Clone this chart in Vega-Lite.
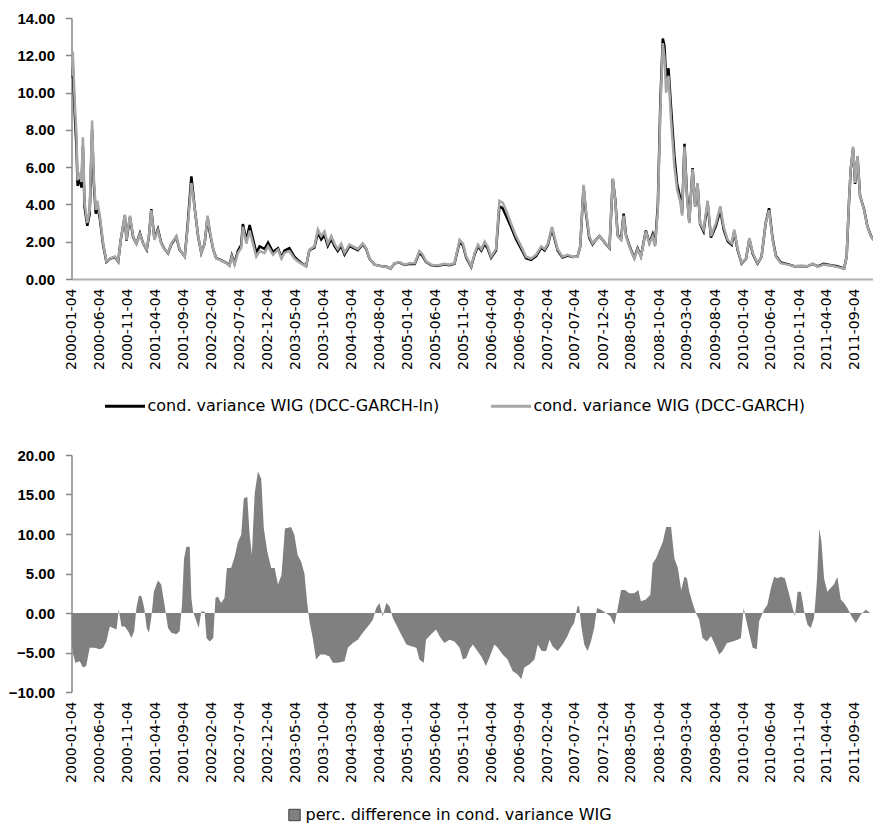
{
  "$schema": "https://vega.github.io/schema/vega-lite/v6.json",
  "background": "white",
  "padding": {"top": 11, "left": 7.5, "right": 0, "bottom": 0},
  "spacing": 33,
  "config": {
    "view": {"stroke": null},
    "axis": {"grid": false, "labelFont": "Liberation Sans", "labelFontWeight": "bold", "labelFontSize": 15, "labelColor": "#000000", "domainColor": "#868686", "tickColor": "#868686", "domainWidth": 1.5, "tickWidth": 1.5, "labelOverlap": false},
    "axisX": {"labelFont": "DejaVu Sans", "labelFontWeight": "normal", "labelFontSize": 14, "labelAngle": -90, "ticks": false, "labelPadding": 9, "labelOverlap": false, "domainColor": "#b0b0b0", "domainWidth": 2, "labelExpr": "utcFormat(datum.value, '%Y-%m-%d')"},
    "axisY": {"tickSize": 6, "labelPadding": 11, "labelOverlap": false}
  },
  "datasets": {
    "top": [
      {"d":"2000-01-04","g":10.9,"b":10.8},{"d":"2000-01-11","g":12.2,"b":11.4},{"d":"2000-01-22","g":9.4,"b":8.8},{"d":"2000-01-31","g":7.8,"b":7.1},
      {"d":"2000-02-06","g":5.3,"b":5.0},{"d":"2000-02-18","g":5.7,"b":5.4},{"d":"2000-02-27","g":5.2,"b":4.9},{"d":"2000-03-06","g":7.6,"b":7.1},
      {"d":"2000-03-15","g":4.1,"b":3.85},{"d":"2000-03-30","g":3.0,"b":2.85},{"d":"2000-04-12","g":3.7,"b":3.5},{"d":"2000-04-25","g":8.5,"b":8.0},
      {"d":"2000-05-04","g":5.5,"b":5.2},{"d":"2000-05-15","g":3.7,"b":3.5},{"d":"2000-05-23","g":4.2,"b":4.0},{"d":"2000-06-06","g":3.4,"b":3.25},
      {"d":"2000-06-24","g":1.9,"b":1.82},{"d":"2000-07-12","g":0.95,"b":0.92},{"d":"2000-07-30","g":1.1,"b":1.08},{"d":"2000-08-26","g":1.2,"b":1.18},
      {"d":"2000-09-14","g":0.95,"b":0.93},{"d":"2000-09-28","g":2.1,"b":2.1},{"d":"2000-10-20","g":3.45,"b":3.4},{"d":"2000-10-29","g":2.1,"b":2.06},
      {"d":"2000-11-17","g":3.4,"b":3.32},{"d":"2000-12-04","g":2.3,"b":2.25},{"d":"2000-12-22","g":1.9,"b":1.9},{"d":"2001-01-10","g":2.4,"b":2.45},
      {"d":"2001-01-28","g":1.9,"b":1.9},{"d":"2001-02-16","g":1.6,"b":1.57},{"d":"2001-02-28","g":2.3,"b":2.27},{"d":"2001-03-13","g":3.7,"b":3.75},
      {"d":"2001-03-30","g":2.1,"b":2.15},{"d":"2001-04-18","g":2.6,"b":2.68},{"d":"2001-05-06","g":1.9,"b":1.94},{"d":"2001-05-24","g":1.6,"b":1.6},
      {"d":"2001-06-12","g":1.4,"b":1.38},{"d":"2001-06-30","g":1.9,"b":1.86},{"d":"2001-07-27","g":2.3,"b":2.25},{"d":"2001-08-14","g":1.6,"b":1.57},
      {"d":"2001-09-11","g":1.2,"b":1.21},{"d":"2001-09-25","g":2.55,"b":2.7},{"d":"2001-10-17","g":5.15,"b":5.5},{"d":"2001-11-05","g":3.7,"b":3.72},
      {"d":"2001-11-23","g":2.3,"b":2.27},{"d":"2001-12-10","g":1.4,"b":1.4},{"d":"2001-12-28","g":1.9,"b":1.9},{"d":"2002-01-13","g":3.4,"b":3.3},
      {"d":"2002-01-25","g":2.6,"b":2.5},{"d":"2002-02-13","g":1.6,"b":1.58},{"d":"2002-03-01","g":1.1,"b":1.12},{"d":"2002-03-28","g":1.0,"b":1.01},
      {"d":"2002-04-24","g":0.85,"b":0.87},{"d":"2002-05-12","g":0.7,"b":0.74},{"d":"2002-05-25","g":1.2,"b":1.26},{"d":"2002-06-09","g":0.77,"b":0.83},
      {"d":"2002-06-27","g":1.4,"b":1.52},{"d":"2002-07-15","g":1.66,"b":1.82},{"d":"2002-07-24","g":2.8,"b":2.95},{"d":"2002-08-12","g":1.9,"b":2.08},
      {"d":"2002-08-30","g":2.6,"b":2.9},{"d":"2002-09-17","g":1.9,"b":2.15},{"d":"2002-10-05","g":1.2,"b":1.4},{"d":"2002-10-23","g":1.5,"b":1.75},
      {"d":"2002-11-19","g":1.4,"b":1.62},{"d":"2002-12-08","g":1.75,"b":1.95},{"d":"2003-01-04","g":1.3,"b":1.45},{"d":"2003-01-31","g":1.57,"b":1.65},
      {"d":"2003-02-19","g":1.1,"b":1.15},{"d":"2003-03-07","g":1.4,"b":1.52},{"d":"2003-04-03","g":1.5,"b":1.65},{"d":"2003-04-30","g":1.1,"b":1.2},
      {"d":"2003-05-18","g":0.95,"b":1.02},{"d":"2003-06-15","g":0.77,"b":0.8},{"d":"2003-07-03","g":0.7,"b":0.7},{"d":"2003-07-21","g":1.57,"b":1.55},
      {"d":"2003-08-17","g":1.75,"b":1.68},{"d":"2003-09-05","g":2.65,"b":2.5},{"d":"2003-09-23","g":2.3,"b":2.12},{"d":"2003-10-11","g":2.55,"b":2.35},
      {"d":"2003-10-29","g":1.9,"b":1.78},{"d":"2003-11-17","g":2.3,"b":2.15},{"d":"2003-12-04","g":1.9,"b":1.78},{"d":"2003-12-22","g":1.6,"b":1.5},
      {"d":"2004-01-10","g":1.9,"b":1.78},{"d":"2004-01-28","g":1.4,"b":1.31},{"d":"2004-02-24","g":1.85,"b":1.76},{"d":"2004-03-13","g":1.75,"b":1.68},
      {"d":"2004-04-09","g":1.6,"b":1.55},{"d":"2004-05-06","g":1.9,"b":1.86},{"d":"2004-05-24","g":1.66,"b":1.63},{"d":"2004-06-12","g":1.1,"b":1.09},
      {"d":"2004-07-09","g":0.77,"b":0.77},{"d":"2004-08-15","g":0.68,"b":0.69},{"d":"2004-09-11","g":0.65,"b":0.66},{"d":"2004-10-05","g":0.55,"b":0.55},
      {"d":"2004-10-26","g":0.85,"b":0.84},{"d":"2004-11-23","g":0.9,"b":0.88},{"d":"2004-12-20","g":0.77,"b":0.75},{"d":"2005-01-17","g":0.85,"b":0.82},
      {"d":"2005-02-13","g":0.85,"b":0.81},{"d":"2005-03-10","g":1.5,"b":1.42},{"d":"2005-03-28","g":1.3,"b":1.22},{"d":"2005-04-15","g":0.95,"b":0.92},
      {"d":"2005-05-13","g":0.77,"b":0.75},{"d":"2005-06-18","g":0.72,"b":0.7},{"d":"2005-07-24","g":0.82,"b":0.79},{"d":"2005-08-21","g":0.77,"b":0.74},
      {"d":"2005-09-17","g":0.85,"b":0.82},{"d":"2005-10-15","g":2.1,"b":2.0},{"d":"2005-11-02","g":1.9,"b":1.8},{"d":"2005-11-20","g":1.2,"b":1.14},
      {"d":"2005-12-17","g":0.68,"b":0.65},{"d":"2006-01-05","g":1.4,"b":1.34},{"d":"2006-01-23","g":1.85,"b":1.76},{"d":"2006-02-10","g":1.6,"b":1.52},
      {"d":"2006-02-28","g":2.0,"b":1.88},{"d":"2006-03-16","g":1.75,"b":1.65},{"d":"2006-04-04","g":1.2,"b":1.14},{"d":"2006-05-01","g":1.6,"b":1.53},
      {"d":"2006-05-19","g":4.2,"b":3.9},{"d":"2006-06-06","g":4.1,"b":3.8},{"d":"2006-06-24","g":3.7,"b":3.4},{"d":"2006-07-21","g":3.0,"b":2.8},
      {"d":"2006-08-18","g":2.3,"b":2.14},{"d":"2006-09-15","g":1.75,"b":1.62},{"d":"2006-10-11","g":1.2,"b":1.12},{"d":"2006-11-08","g":1.1,"b":1.03},
      {"d":"2006-12-05","g":1.3,"b":1.23},{"d":"2007-01-02","g":1.75,"b":1.67},{"d":"2007-01-20","g":1.6,"b":1.53},{"d":"2007-02-07","g":1.9,"b":1.83},
      {"d":"2007-03-01","g":2.8,"b":2.7},{"d":"2007-03-14","g":2.3,"b":2.2},{"d":"2007-04-01","g":1.6,"b":1.53},{"d":"2007-04-28","g":1.2,"b":1.15},
      {"d":"2007-05-25","g":1.3,"b":1.26},{"d":"2007-06-21","g":1.2,"b":1.18},{"d":"2007-07-18","g":1.2,"b":1.21},{"d":"2007-08-02","g":1.75,"b":1.74},
      {"d":"2007-08-20","g":5.05,"b":4.95},{"d":"2007-09-02","g":3.7,"b":3.55},{"d":"2007-09-20","g":2.3,"b":2.2},{"d":"2007-10-08","g":1.9,"b":1.86},
      {"d":"2007-10-26","g":2.1,"b":2.1},{"d":"2007-11-14","g":2.3,"b":2.3},{"d":"2007-12-02","g":2.1,"b":2.1},{"d":"2007-12-20","g":1.85,"b":1.85},
      {"d":"2008-01-08","g":1.66,"b":1.65},{"d":"2008-01-26","g":5.4,"b":5.35},{"d":"2008-02-08","g":4.25,"b":4.3},{"d":"2008-02-22","g":2.3,"b":2.35},
      {"d":"2008-03-11","g":2.1,"b":2.15},{"d":"2008-03-25","g":3.4,"b":3.5},{"d":"2008-04-07","g":2.3,"b":2.36},{"d":"2008-04-25","g":1.75,"b":1.8},
      {"d":"2008-05-22","g":1.1,"b":1.13},{"d":"2008-06-09","g":1.6,"b":1.65},{"d":"2008-06-27","g":1.2,"b":1.22},{"d":"2008-07-24","g":2.55,"b":2.6},
      {"d":"2008-08-12","g":1.9,"b":1.94},{"d":"2008-08-30","g":2.3,"b":2.4},{"d":"2008-09-12","g":1.75,"b":1.85},{"d":"2008-09-27","g":3.7,"b":3.95},
      {"d":"2008-10-11","g":9.1,"b":9.6},{"d":"2008-10-24","g":12.65,"b":12.9},{"d":"2008-11-02","g":11.9,"b":12.5},{"d":"2008-11-11","g":10.0,"b":10.8},
      {"d":"2008-11-24","g":10.9,"b":11.3},{"d":"2008-12-08","g":8.55,"b":9.2},{"d":"2008-12-26","g":6.05,"b":6.6},{"d":"2009-01-10","g":4.8,"b":5.1},
      {"d":"2009-01-28","g":4.1,"b":4.3},{"d":"2009-02-06","g":3.4,"b":3.55},{"d":"2009-02-19","g":7.1,"b":7.25},{"d":"2009-03-04","g":4.45,"b":4.6},
      {"d":"2009-03-17","g":3.0,"b":3.05},{"d":"2009-04-04","g":5.9,"b":5.95},{"d":"2009-04-18","g":3.9,"b":3.9},{"d":"2009-05-01","g":5.15,"b":5.1},
      {"d":"2009-05-15","g":3.0,"b":2.95},{"d":"2009-06-03","g":2.65,"b":2.55},{"d":"2009-06-25","g":4.2,"b":4.05},{"d":"2009-07-13","g":2.3,"b":2.22},
      {"d":"2009-08-09","g":3.0,"b":2.85},{"d":"2009-09-02","g":3.9,"b":3.7},{"d":"2009-09-20","g":2.8,"b":2.66},{"d":"2009-10-12","g":2.1,"b":2.02},
      {"d":"2009-11-03","g":1.9,"b":1.83},{"d":"2009-11-17","g":2.65,"b":2.56},{"d":"2009-12-05","g":1.6,"b":1.55},{"d":"2009-12-27","g":0.85,"b":0.83},
      {"d":"2010-01-20","g":1.1,"b":1.09},{"d":"2010-02-07","g":2.2,"b":2.15},{"d":"2010-02-25","g":1.4,"b":1.35},{"d":"2010-03-23","g":0.85,"b":0.82},
      {"d":"2010-04-14","g":1.2,"b":1.19},{"d":"2010-05-07","g":3.0,"b":3.02},{"d":"2010-05-25","g":3.7,"b":3.8},{"d":"2010-06-13","g":2.1,"b":2.18},
      {"d":"2010-07-01","g":1.2,"b":1.25},{"d":"2010-07-28","g":0.85,"b":0.88},{"d":"2010-09-03","g":0.77,"b":0.8},{"d":"2010-10-09","g":0.68,"b":0.69},
      {"d":"2010-11-14","g":0.68,"b":0.7},{"d":"2010-12-20","g":0.68,"b":0.68},{"d":"2011-01-17","g":0.82,"b":0.81},{"d":"2011-02-13","g":0.65,"b":0.68},
      {"d":"2011-03-19","g":0.77,"b":0.81},{"d":"2011-04-25","g":0.72,"b":0.74},{"d":"2011-05-31","g":0.65,"b":0.68},{"d":"2011-07-07","g":0.55,"b":0.56},
      {"d":"2011-07-21","g":1.2,"b":1.2},{"d":"2011-08-03","g":4.25,"b":4.2},{"d":"2011-08-12","g":5.9,"b":5.85},{"d":"2011-08-25","g":7.1,"b":7.0},
      {"d":"2011-09-05","g":5.15,"b":5.1},{"d":"2011-09-18","g":6.6,"b":6.55},{"d":"2011-10-02","g":4.45,"b":4.45},{"d":"2011-10-24","g":3.7,"b":3.72},
      {"d":"2011-11-11","g":2.8,"b":2.82},{"d":"2011-11-30","g":2.3,"b":2.32},{"d":"2011-12-14","g":2.1,"b":2.1}
    ],
    "bottom": [
      {"d":"2000-01-04","v":-3.6},{"d":"2000-01-13","v":-5.25},{"d":"2000-01-25","v":-6.3},{"d":"2000-02-18","v":-6.1},{"d":"2000-03-06","v":-6.9},
      {"d":"2000-03-24","v":-6.7},{"d":"2000-04-12","v":-4.4},{"d":"2000-05-09","v":-4.4},{"d":"2000-06-06","v":-4.6},{"d":"2000-06-24","v":-4.4},
      {"d":"2000-07-12","v":-3.6},{"d":"2000-07-30","v":-1.7},{"d":"2000-08-17","v":-1.9},{"d":"2000-09-05","v":-2.1},{"d":"2000-09-17","v":0.4},
      {"d":"2000-10-02","v":-1.7},{"d":"2000-10-20","v":-1.7},{"d":"2000-11-07","v":-2.3},{"d":"2000-11-25","v":-3.15},{"d":"2000-12-10","v":-2.3},
      {"d":"2000-12-22","v":0.63},{"d":"2001-01-05","v":2.2},{"d":"2001-01-19","v":2.1},{"d":"2001-02-03","v":0.6},{"d":"2001-02-16","v":-1.9},
      {"d":"2001-02-28","v":-2.5},{"d":"2001-03-13","v":-0.6},{"d":"2001-03-27","v":2.7},{"d":"2001-04-18","v":4.1},{"d":"2001-05-06","v":3.6},
      {"d":"2001-05-24","v":1.05},{"d":"2001-06-12","v":-1.9},{"d":"2001-06-30","v":-2.5},{"d":"2001-07-27","v":-2.7},{"d":"2001-08-14","v":-2.3},
      {"d":"2001-08-27","v":1.05},{"d":"2001-09-07","v":6.9},{"d":"2001-09-20","v":8.4},{"d":"2001-10-08","v":8.4},{"d":"2001-10-17","v":1.9},
      {"d":"2001-10-26","v":0.2},{"d":"2001-11-13","v":-1.05},{"d":"2001-11-26","v":-1.9},{"d":"2001-12-10","v":0.2},{"d":"2001-12-28","v":0.2},
      {"d":"2002-01-07","v":-3.15},{"d":"2002-01-25","v":-3.6},{"d":"2002-02-13","v":-3.15},{"d":"2002-02-25","v":1.9},{"d":"2002-03-10","v":2.1},
      {"d":"2002-03-28","v":1.26},{"d":"2002-04-15","v":1.9},{"d":"2002-04-28","v":5.7},{"d":"2002-05-21","v":5.7},{"d":"2002-06-09","v":7.1},
      {"d":"2002-06-27","v":9.0},{"d":"2002-07-15","v":9.9},{"d":"2002-07-29","v":14.5},{"d":"2002-08-17","v":14.7},{"d":"2002-08-30","v":9.9},
      {"d":"2002-09-11","v":7.35},{"d":"2002-09-26","v":15.1},{"d":"2002-10-14","v":17.9},{"d":"2002-11-01","v":17.0},{"d":"2002-11-15","v":10.7},
      {"d":"2002-12-04","v":7.8},{"d":"2002-12-25","v":5.7},{"d":"2003-01-13","v":5.7},{"d":"2003-01-31","v":3.6},{"d":"2003-02-19","v":4.8},
      {"d":"2003-03-10","v":10.7},{"d":"2003-04-12","v":10.9},{"d":"2003-04-30","v":9.9},{"d":"2003-05-18","v":7.35},{"d":"2003-06-06","v":6.5},
      {"d":"2003-06-24","v":5.0},{"d":"2003-07-08","v":1.5},{"d":"2003-07-21","v":-1.05},{"d":"2003-08-08","v":-3.15},{"d":"2003-08-26","v":-5.9},
      {"d":"2003-09-19","v":-5.25},{"d":"2003-10-11","v":-5.25},{"d":"2003-11-07","v":-5.5},{"d":"2003-11-25","v":-6.3},{"d":"2003-12-22","v":-6.3},
      {"d":"2004-01-28","v":-6.1},{"d":"2004-02-15","v":-4.4},{"d":"2004-03-13","v":-3.8},{"d":"2004-04-09","v":-3.4},{"d":"2004-05-06","v":-2.5},
      {"d":"2004-06-03","v":-1.7},{"d":"2004-06-30","v":-0.84},{"d":"2004-07-18","v":0.63},{"d":"2004-08-05","v":1.26},{"d":"2004-08-23","v":-0.4},
      {"d":"2004-09-11","v":1.26},{"d":"2004-09-29","v":0.84},{"d":"2004-10-17","v":-0.63},{"d":"2004-11-13","v":-1.9},{"d":"2004-12-11","v":-3.15},
      {"d":"2004-12-29","v":-4.0},{"d":"2005-01-26","v":-4.2},{"d":"2005-02-22","v":-4.4},{"d":"2005-03-10","v":-5.9},{"d":"2005-04-03","v":-6.3},
      {"d":"2005-04-15","v":-3.4},{"d":"2005-05-13","v":-2.7},{"d":"2005-06-09","v":-2.1},{"d":"2005-06-27","v":-2.9},{"d":"2005-07-24","v":-3.8},
      {"d":"2005-08-21","v":-3.4},{"d":"2005-09-17","v":-3.6},{"d":"2005-10-15","v":-4.4},{"d":"2005-11-02","v":-5.9},{"d":"2005-11-20","v":-5.7},
      {"d":"2005-12-08","v":-4.6},{"d":"2005-12-26","v":-4.0},{"d":"2006-01-13","v":-4.6},{"d":"2006-02-10","v":-5.5},{"d":"2006-03-07","v":-6.7},
      {"d":"2006-03-25","v":-5.7},{"d":"2006-04-22","v":-4.0},{"d":"2006-05-10","v":-4.4},{"d":"2006-06-06","v":-5.25},{"d":"2006-07-03","v":-5.9},
      {"d":"2006-07-30","v":-7.35},{"d":"2006-08-27","v":-7.8},{"d":"2006-09-15","v":-8.4},{"d":"2006-10-02","v":-6.9},{"d":"2006-10-30","v":-6.5},
      {"d":"2006-11-26","v":-5.9},{"d":"2006-12-14","v":-4.0},{"d":"2007-01-05","v":-4.8},{"d":"2007-01-29","v":-4.8},{"d":"2007-02-16","v":-3.4},
      {"d":"2007-03-04","v":-4.2},{"d":"2007-04-01","v":-4.8},{"d":"2007-04-28","v":-4.0},{"d":"2007-05-25","v":-2.9},{"d":"2007-06-12","v":-1.9},
      {"d":"2007-06-30","v":-1.26},{"d":"2007-07-18","v":0.84},{"d":"2007-07-27","v":0.84},{"d":"2007-08-09","v":-1.9},{"d":"2007-08-24","v":-4.0},
      {"d":"2007-09-11","v":-4.8},{"d":"2007-09-29","v":-3.6},{"d":"2007-10-17","v":-1.9},{"d":"2007-11-01","v":0.63},{"d":"2007-11-23","v":0.4},
      {"d":"2007-12-20","v":0.0},{"d":"2008-01-13","v":-0.4},{"d":"2008-02-04","v":-1.5},{"d":"2008-02-22","v":0.63},{"d":"2008-03-11","v":2.9},
      {"d":"2008-04-02","v":2.9},{"d":"2008-04-25","v":2.5},{"d":"2008-05-22","v":2.5},{"d":"2008-06-13","v":2.9},{"d":"2008-06-27","v":1.5},
      {"d":"2008-07-24","v":1.7},{"d":"2008-08-17","v":2.3},{"d":"2008-08-30","v":6.3},{"d":"2008-09-17","v":6.9},{"d":"2008-10-06","v":8.0},
      {"d":"2008-10-24","v":9.0},{"d":"2008-11-11","v":10.9},{"d":"2008-12-08","v":10.9},{"d":"2008-12-26","v":6.9},{"d":"2009-01-14","v":5.7},
      {"d":"2009-02-01","v":2.9},{"d":"2009-02-19","v":4.6},{"d":"2009-03-04","v":4.4},{"d":"2009-03-17","v":2.7},{"d":"2009-04-04","v":1.26},
      {"d":"2009-04-22","v":0.0},{"d":"2009-05-10","v":-0.84},{"d":"2009-05-28","v":-3.15},{"d":"2009-06-21","v":-3.6},{"d":"2009-07-13","v":-2.9},
      {"d":"2009-07-31","v":-3.8},{"d":"2009-08-27","v":-5.25},{"d":"2009-09-14","v":-4.8},{"d":"2009-10-08","v":-3.8},{"d":"2009-11-08","v":-3.6},
      {"d":"2009-12-05","v":-3.4},{"d":"2009-12-23","v":-3.15},{"d":"2010-01-07","v":0.63},{"d":"2010-01-20","v":-0.84},{"d":"2010-02-07","v":-2.7},
      {"d":"2010-02-25","v":-4.4},{"d":"2010-03-19","v":-4.6},{"d":"2010-04-01","v":-1.05},{"d":"2010-04-28","v":0.4},{"d":"2010-05-16","v":1.05},
      {"d":"2010-06-04","v":3.15},{"d":"2010-06-22","v":4.6},{"d":"2010-07-10","v":4.4},{"d":"2010-07-28","v":4.6},{"d":"2010-08-19","v":4.4},
      {"d":"2010-09-12","v":2.3},{"d":"2010-09-30","v":0.63},{"d":"2010-10-13","v":-0.4},{"d":"2010-10-27","v":2.7},{"d":"2010-11-14","v":2.7},
      {"d":"2010-12-02","v":0.2},{"d":"2010-12-20","v":-1.5},{"d":"2011-01-07","v":-1.9},{"d":"2011-01-25","v":-0.6},{"d":"2011-02-09","v":4.0},
      {"d":"2011-02-22","v":10.7},{"d":"2011-03-06","v":9.0},{"d":"2011-03-20","v":4.4},{"d":"2011-04-07","v":2.7},{"d":"2011-04-25","v":3.15},
      {"d":"2011-05-13","v":3.6},{"d":"2011-05-31","v":4.6},{"d":"2011-06-19","v":1.7},{"d":"2011-07-07","v":1.26},{"d":"2011-07-25","v":0.63},
      {"d":"2011-08-16","v":-0.4},{"d":"2011-09-09","v":-1.26},{"d":"2011-10-06","v":-0.2},{"d":"2011-11-02","v":0.4},{"d":"2011-11-26","v":0.0}
    ]
  },
  "vconcat": [
    {
      "width": 802,
      "height": 261,
      "data": {"name": "top"},
      "encoding": {
        "x": {
          "field": "d", "type": "temporal", "title": null,
          "scale": {"type": "utc", "domain": [{"year": 2000, "month": 1, "date": 4, "utc": true}, {"year": 2011, "month": 12, "date": 14, "utc": true}]},
          "axis": {
            "values": [
              {"year":2000,"month":1,"date":4,"utc":true},{"year":2000,"month":6,"date":4,"utc":true},{"year":2000,"month":11,"date":4,"utc":true},
              {"year":2001,"month":4,"date":4,"utc":true},{"year":2001,"month":9,"date":4,"utc":true},{"year":2002,"month":2,"date":4,"utc":true},
              {"year":2002,"month":7,"date":4,"utc":true},{"year":2002,"month":12,"date":4,"utc":true},{"year":2003,"month":5,"date":4,"utc":true},
              {"year":2003,"month":10,"date":4,"utc":true},{"year":2004,"month":3,"date":4,"utc":true},{"year":2004,"month":8,"date":4,"utc":true},
              {"year":2005,"month":1,"date":4,"utc":true},{"year":2005,"month":6,"date":4,"utc":true},{"year":2005,"month":11,"date":4,"utc":true},
              {"year":2006,"month":4,"date":4,"utc":true},{"year":2006,"month":9,"date":4,"utc":true},{"year":2007,"month":2,"date":4,"utc":true},
              {"year":2007,"month":7,"date":4,"utc":true},{"year":2007,"month":12,"date":4,"utc":true},{"year":2008,"month":5,"date":4,"utc":true},
              {"year":2008,"month":10,"date":4,"utc":true},{"year":2009,"month":3,"date":4,"utc":true},{"year":2009,"month":8,"date":4,"utc":true},
              {"year":2010,"month":1,"date":4,"utc":true},{"year":2010,"month":6,"date":4,"utc":true},{"year":2010,"month":11,"date":4,"utc":true},
              {"year":2011,"month":4,"date":4,"utc":true},{"year":2011,"month":9,"date":4,"utc":true}
            ]
          }
        }
      },
      "layer": [
        {
          "mark": {"type": "line", "strokeWidth": 2.5, "clip": true},
          "encoding": {
            "y": {"field": "b", "type": "quantitative", "title": null, "scale": {"domain": [0, 14], "nice": false}, "axis": {"values": [0,2,4,6,8,10,12,14], "format": ".2f", "labelOverlap": false}},
            "color": {
              "datum": "ln",
              "scale": {"domain": ["ln", "garch"], "range": ["#000000", "#a6a6a6"]},
              "legend": {
                "orient": "none", "legendX": 32, "legendY": 366.5, "direction": "horizontal", "title": null,
                "symbolType": "stroke", "symbolSize": 1600, "symbolStrokeWidth": 3,
                "labelFont": "DejaVu Sans", "labelFontSize": 16, "labelColor": "#000000", "labelLimit": 500,
                "columnPadding": 45, "labelOffset": 1,
                "labelExpr": "datum.label == 'ln' ? 'cond. variance WIG (DCC-GARCH-ln)' : 'cond. variance WIG (DCC-GARCH)'"
              }
            }
          }
        },
        {
          "mark": {"type": "line", "strokeWidth": 2.5, "clip": true},
          "encoding": {
            "y": {"field": "g", "type": "quantitative", "title": null, "axis": {"values": [0,2,4,6,8,10,12,14], "format": ".2f", "labelOverlap": false}},
            "color": {"datum": "garch"}
          }
        }
      ]
    },
    {
      "width": 802,
      "height": 237,
      "data": {"name": "bottom"},
      "encoding": {
        "x": {
          "field": "d", "type": "temporal", "title": null,
          "scale": {"type": "utc", "domain": [{"year": 2000, "month": 1, "date": 4, "utc": true}, {"year": 2011, "month": 12, "date": 14, "utc": true}]},
          "axis": {
            "domain": false,
            "values": [
              {"year":2000,"month":1,"date":4,"utc":true},{"year":2000,"month":6,"date":4,"utc":true},{"year":2000,"month":11,"date":4,"utc":true},
              {"year":2001,"month":4,"date":4,"utc":true},{"year":2001,"month":9,"date":4,"utc":true},{"year":2002,"month":2,"date":4,"utc":true},
              {"year":2002,"month":7,"date":4,"utc":true},{"year":2002,"month":12,"date":4,"utc":true},{"year":2003,"month":5,"date":4,"utc":true},
              {"year":2003,"month":10,"date":4,"utc":true},{"year":2004,"month":3,"date":4,"utc":true},{"year":2004,"month":8,"date":4,"utc":true},
              {"year":2005,"month":1,"date":4,"utc":true},{"year":2005,"month":6,"date":4,"utc":true},{"year":2005,"month":11,"date":4,"utc":true},
              {"year":2006,"month":4,"date":4,"utc":true},{"year":2006,"month":9,"date":4,"utc":true},{"year":2007,"month":2,"date":4,"utc":true},
              {"year":2007,"month":7,"date":4,"utc":true},{"year":2007,"month":12,"date":4,"utc":true},{"year":2008,"month":5,"date":4,"utc":true},
              {"year":2008,"month":10,"date":4,"utc":true},{"year":2009,"month":3,"date":4,"utc":true},{"year":2009,"month":8,"date":4,"utc":true},
              {"year":2010,"month":1,"date":4,"utc":true},{"year":2010,"month":6,"date":4,"utc":true},{"year":2010,"month":11,"date":4,"utc":true},
              {"year":2011,"month":4,"date":4,"utc":true},{"year":2011,"month":9,"date":4,"utc":true}
            ]
          }
        }
      },
      "layer": [
        {
          "mark": {"type": "area", "clip": true},
          "encoding": {
            "y": {"field": "v", "type": "quantitative", "title": null, "stack": null, "scale": {"domain": [-10, 20], "nice": false}, "axis": {"values": [-10,-5,0,5,10,15,20], "format": ".2f", "labelOverlap": false}},
            "y2": {"datum": 0},
            "color": {
              "datum": "perc. difference in cond. variance WIG",
              "scale": {"range": ["#808080"]},
              "legend": {
                "orient": "none", "legendX": 215, "legendY": 352, "title": null,
                "symbolType": "square", "symbolSize": 130, "symbolStrokeColor": "#404040", "symbolStrokeWidth": 1,
                "labelFont": "DejaVu Sans", "labelFontSize": 16, "labelColor": "#000000", "labelLimit": 500, "labelOffset": 3
              }
            }
          }
        },
        {
          "mark": {"type": "rule", "color": "#b0b0b0", "strokeWidth": 2},
          "encoding": {"y": {"datum": 0, "type": "quantitative", "title": null, "axis": {"values": [-10,-5,0,5,10,15,20], "format": ".2f", "labelOverlap": false}}}
        }
      ]
    }
  ],
  "resolve": {"scale": {"color": "independent"}, "legend": {"color": "independent"}}
}
